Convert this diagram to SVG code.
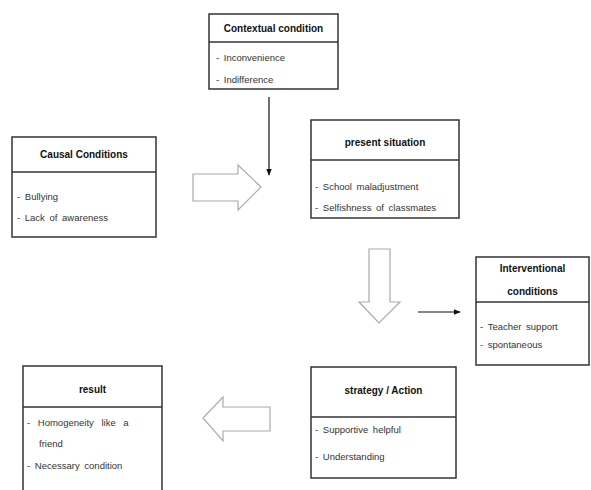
<svg xmlns="http://www.w3.org/2000/svg" width="591" height="490" viewBox="0 0 591 490">
<defs>
<style>
.box{fill:#fff;stroke:#333;stroke-width:1.5}
.div{stroke:#333;stroke-width:1.5}
.t{font-family:"Liberation Sans",Arial,sans-serif;font-size:10px;font-weight:bold;fill:#111;text-anchor:middle}
.i{font-family:"Liberation Sans",Arial,sans-serif;font-size:9.5px;fill:#333;word-spacing:2px}
.hollow{fill:#fff;stroke:#aaa;stroke-width:1.2}
.con{stroke:#111;stroke-width:1.2;fill:none}
</style>
<marker id="ah" viewBox="0 0 10 10" refX="9" refY="5" markerWidth="6" markerHeight="6" orient="auto">
<path d="M0,1 L10,5 L0,9 z" fill="#111"/>
</marker>
</defs>
<rect width="591" height="490" fill="#fff"/>

<g id="contextual">
<rect class="box" x="209" y="14" width="129" height="75"/>
<line class="div" x1="209" y1="42" x2="338" y2="42"/>
<text class="t" x="273.5" y="32">Contextual condition</text>
<text class="i" x="216" y="61">- Inconvenience</text>
<text class="i" x="216" y="83">- Indifference</text>
</g>

<g id="causal">
<rect class="box" x="12" y="137" width="144" height="100"/>
<line class="div" x1="12" y1="172" x2="156" y2="172"/>
<text class="t" x="84" y="158">Causal Conditions</text>
<text class="i" x="17" y="200">- Bullying</text>
<text class="i" x="17" y="221">- Lack of awareness</text>
</g>

<g id="present">
<rect class="box" x="311" y="120" width="148" height="98"/>
<line class="div" x1="311" y1="160" x2="459" y2="160"/>
<text class="t" x="385" y="146">present situation</text>
<text class="i" x="315" y="190">- School maladjustment</text>
<text class="i" x="315" y="211">- Selfishness of classmates</text>
</g>

<g id="interventional">
<rect class="box" x="476" y="257" width="113" height="108"/>
<line class="div" x1="476" y1="302" x2="589" y2="302"/>
<text class="t" x="532.5" y="272">Interventional</text>
<text class="t" x="532.5" y="295">conditions</text>
<text class="i" x="480" y="330">- Teacher support</text>
<text class="i" x="480" y="348">- spontaneous</text>
</g>

<g id="strategy">
<rect class="box" x="311" y="367" width="145" height="111"/>
<line class="div" x1="311" y1="417" x2="456" y2="417"/>
<text class="t" x="383.5" y="394">strategy / Action</text>
<text class="i" x="315" y="433">-  Supportive helpful</text>
<text class="i" x="315" y="460">- Understanding</text>
</g>

<g id="result">
<path class="box" d="M23,491 L23,366 L162,366 L162,491"/>
<line class="div" x1="23" y1="407" x2="162" y2="407"/>
<text class="t" x="92.5" y="393">result</text>
<text class="i" x="27" y="426" style="word-spacing:5px">-  Homogeneity like a</text>
<text class="i" x="39" y="447">friend</text>
<text class="i" x="27" y="469">-  Necessary condition</text>
</g>

<g id="connectors">
<line class="con" x1="269" y1="97" x2="269" y2="175" marker-end="url(#ah)"/>
<line class="con" x1="418" y1="312" x2="460" y2="312" marker-end="url(#ah)"/>
<path class="hollow" d="M193,174 L238,174 L238,165 L261,187 L238,210 L238,201 L193,201 Z"/>
<path class="hollow" d="M369,249 L390,249 L390,302 L400,302 L379,323 L359,302 L369,302 Z"/>
<path class="hollow" d="M270,407 L223,407 L223,397 L203,418 L223,441 L223,431 L270,431 Z"/>
</g>
</svg>
